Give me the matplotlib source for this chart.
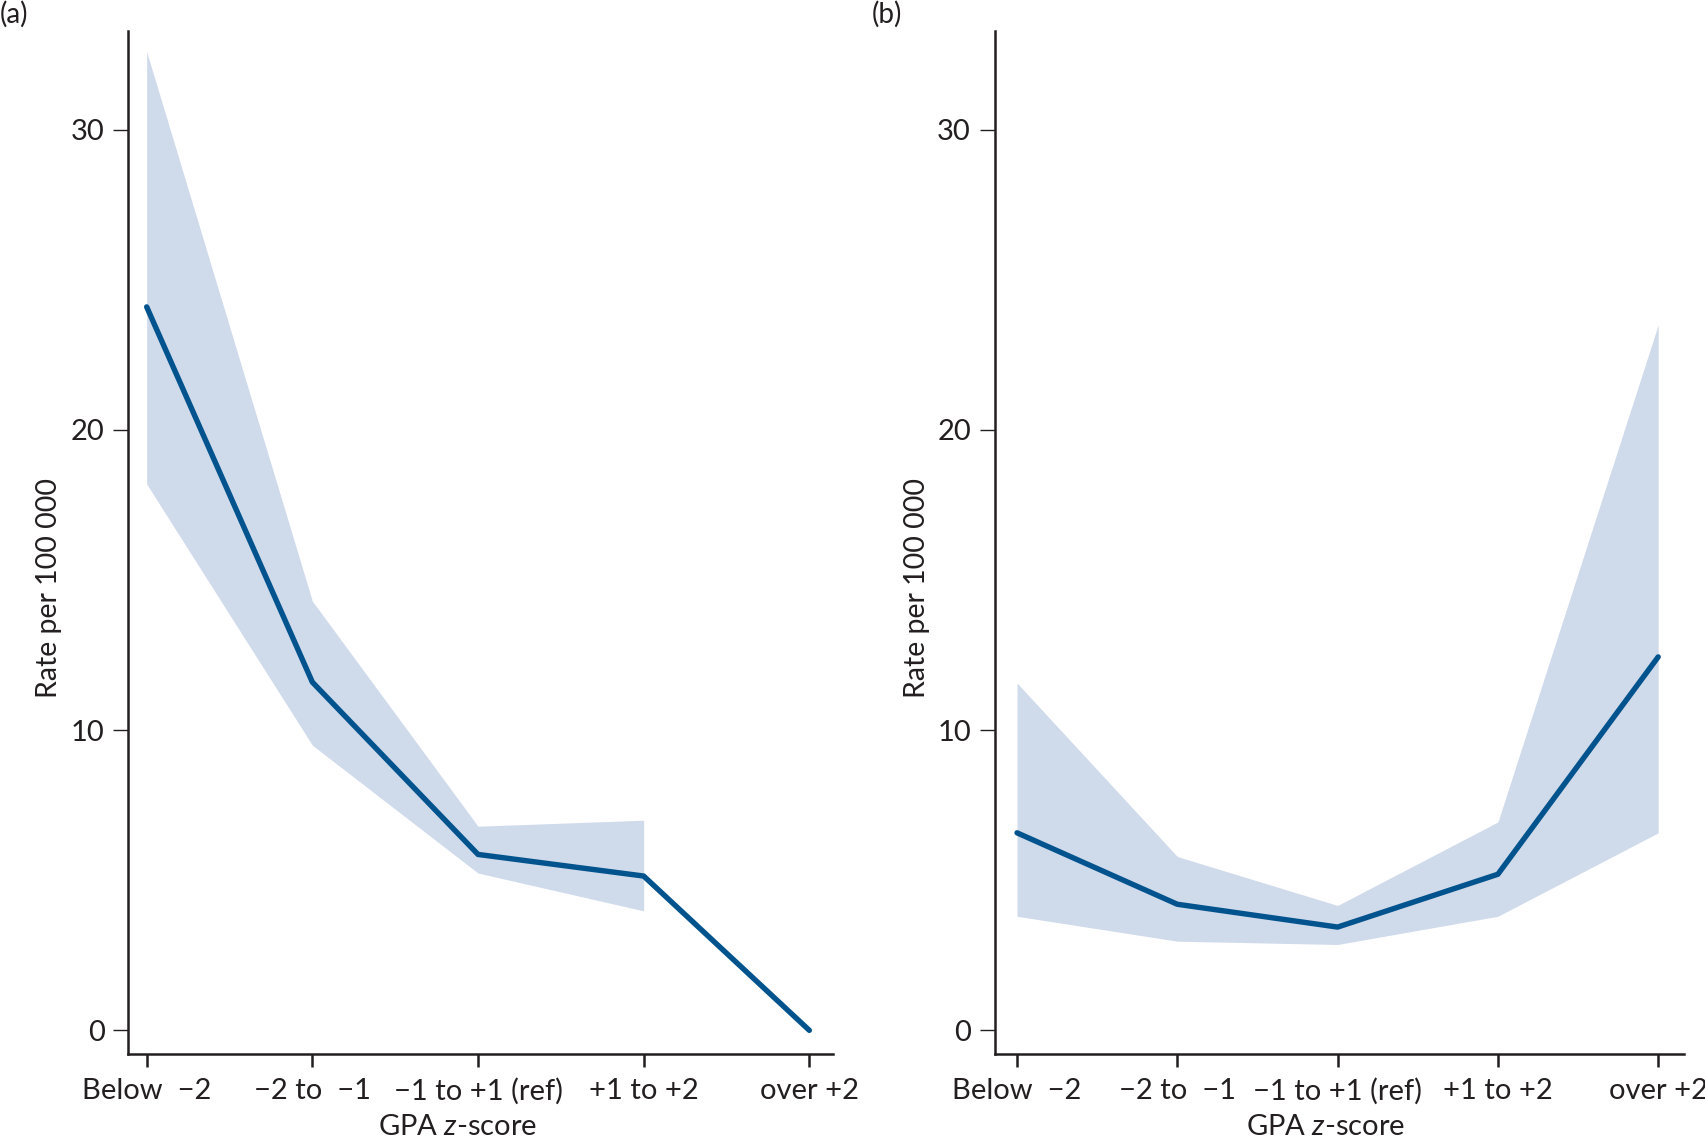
import matplotlib
matplotlib.use('Agg')
import matplotlib.pyplot as plt

plt.rcParams['font.family'] = ['Lato', 'DejaVu Sans']
plt.rcParams['mathtext.fontset'] = 'custom'
plt.rcParams['mathtext.it'] = 'Lato:italic'
plt.rcParams['mathtext.rm'] = 'Lato'

categorias = ['Below  \u22122', '\u22122 to  \u22121', '\u22121 to +1 (ref)', '+1 to +2', 'over +2']

# painel (a)
taxa_a = [24.1, 11.6, 5.86, 5.14, 0.0]
sup_a = [32.6, 14.3, 6.8, 7.0]
inf_a = [18.2, 9.5, 5.24, 3.98]

# painel (b)
taxa_b = [6.58, 4.2, 3.44, 5.2, 12.44]
sup_b = [11.57, 5.79, 4.16, 6.94, 23.5]
inf_b = [3.8, 2.97, 2.86, 3.8, 6.58]

azul = '#00538c'
faixa = '#cfdaeb'
texto = '#231f20'

fig = plt.figure(figsize=(17.06, 11.38), dpi=100)
ax1 = fig.add_axes([0.0753, 0.0735, 0.4127, 0.8995])
ax2 = fig.add_axes([0.583, 0.0735, 0.404, 0.8995])

def painel(ax, taxa, sup, inf, xmin, xmax, xlab):
    x = list(range(len(taxa)))
    xs = list(range(len(sup)))
    ax.fill_between(xs, inf, sup, color=faixa, linewidth=0)
    ax.plot(x, taxa, color=azul, linewidth=3.9, solid_capstyle='round', solid_joinstyle='round')
    ax.set_xlim(xmin, xmax)
    ax.set_ylim(-0.8, 33.3)
    ax.set_yticks([0, 10, 20, 30])
    ax.set_xticks(x)
    ax.set_xticklabels(categorias)
    for s in ['top', 'right']:
        ax.spines[s].set_visible(False)
    for s in ['left', 'bottom']:
        ax.spines[s].set_linewidth(1.8)
        ax.spines[s].set_color(texto)
    ax.tick_params(axis='y', length=11, width=1, color=texto, labelsize=21, labelcolor=texto, pad=6)
    ax.tick_params(axis='x', length=9, width=1.8, color=texto, labelsize=21, labelcolor=texto, pad=8)
    ax.set_ylabel('Rate per 100 000', fontsize=20.5, color=texto)
    ax.yaxis.set_label_coords(-0.094, 0.456)
    ax.set_xlabel('GPA $z$-score', fontsize=21, color=texto)
    ax.xaxis.set_label_coords(xlab, -0.058)

painel(ax1, taxa_a, sup_a, inf_a, -0.11, 4.14, 0.468)
painel(ax2, taxa_b, sup_b, inf_b, -0.14, 4.16, 0.48)

fig.text(0.0, 0.987, '(a)', fontsize=20, color=texto, va='center', ha='left')
fig.text(0.511, 0.987, '(b)', fontsize=20, color=texto, va='center', ha='left')

fig.savefig('out.png', dpi=100)
